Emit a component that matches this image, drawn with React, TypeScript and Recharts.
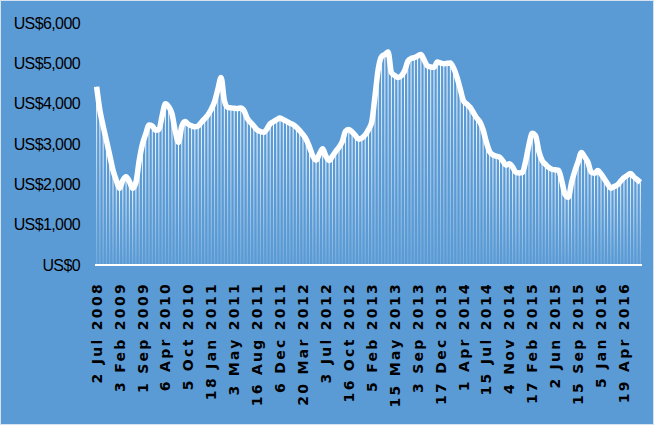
import React from 'react';
import { ComposedChart, Bar, Line, XAxis, YAxis } from 'recharts';

// auction dates shown on the axis (every 7th event)
const tickLabels = [
  '2 Jul 2008', '3 Feb 2009', '1 Sep 2009', '6 Apr 2010', '5 Oct 2010', '18 Jan 2011',
  '3 May 2011', '16 Aug 2011', '6 Dec 2011', '20 Mar 2012', '3 Jul 2012', '16 Oct 2012',
  '5 Feb 2013', '15 May 2013', '3 Sep 2013', '17 Dec 2013', '1 Apr 2014', '15 Jul 2014',
  '4 Nov 2014', '17 Feb 2015', '2 Jun 2015', '15 Sep 2015', '5 Jan 2016', '19 Apr 2016',
];

// price per tonne, one value per event
const prices = [
  4420, 3830, 3440, 3085, 2720, 2350, 2100, 1900, 2100, 2185,
  2070, 1900, 2050, 2590, 3000, 3250, 3470, 3450, 3340, 3355,
  3700, 4000, 3925, 3750, 3320, 3040, 3440, 3555, 3490, 3450,
  3425, 3445, 3540, 3630, 3725, 3860, 4050, 4350, 4650, 4075,
  3910, 3895, 3885, 3880, 3890, 3825, 3635, 3535, 3445, 3350,
  3310, 3290, 3375, 3505, 3555, 3605, 3645, 3600, 3560, 3515,
  3480, 3415, 3330, 3235, 3110, 2920, 2700, 2600, 2750, 2880,
  2700, 2590, 2700, 2820, 2920, 3060, 3320, 3360, 3300, 3210,
  3120, 3150, 3225, 3360, 3550, 4200, 4870, 5165, 5220, 5280,
  4770, 4700, 4650, 4690, 4810, 5050, 5120, 5140, 5180, 5220,
  5080, 4935, 4910, 4900, 5030, 5010, 4990, 5000, 5010, 4880,
  4660, 4370, 4070, 3990, 3910, 3780, 3650, 3550, 3350, 3040,
  2810, 2730, 2700, 2675, 2580, 2475, 2510, 2430, 2295, 2280,
  2295, 2580, 2985, 3265, 3210, 2820, 2590, 2500, 2420, 2375,
  2360, 2350, 2085, 1750, 1680, 2050, 2330, 2560, 2790, 2680,
  2545, 2300, 2275, 2340, 2255, 2140, 2010, 1905, 1945, 1985,
  2080, 2165, 2220, 2270, 2185, 2115, 2050,
];

const yTicks = [0, 1000, 2000, 3000, 4000, 5000, 6000];

const data = prices.map((v, i) => ({ i, v }));
const xTicks = tickLabels.map((_, k) => k * 7);

const fmtUsd = (v: number) => 'US$' + v.toLocaleString('en-US');

const DateTick = (props: any) => {
  const { x, y, payload } = props;
  const label = tickLabels[payload.value / 7];
  return (
    <text
      x={x}
      y={y}
      transform={`rotate(-90, ${x}, ${y})`}
      textAnchor="end"
      dy="0.36em"
      fill="#000"
      fontFamily="DejaVu Sans, Verdana, sans-serif"
      fontWeight="bold"
      fontSize={14}
      letterSpacing={2.3}
    >
      {label}
    </text>
  );
};

export default function App() {
  return (
    <div
      style={{
        position: 'absolute',
        left: 0,
        top: 0,
        width: 654,
        height: 425,
        background: '#5B9BD5',
        border: '1px solid #d6e2ef',
        boxSizing: 'border-box',
      }}
    >
      <ComposedChart
        width={652}
        height={423}
        data={data}
        margin={{ top: 22, right: 11, bottom: 0, left: 0 }}
        barCategoryGap="34%"
      >
        <defs>
          <linearGradient id="barFade" x1="0" y1="0" x2="0" y2="1">
            <stop offset="0%" stopColor="#ffffff" stopOpacity={1} />
            <stop offset="100%" stopColor="#ffffff" stopOpacity={0.15} />
          </linearGradient>
        </defs>
        <XAxis
          dataKey="i"
          ticks={xTicks}
          interval={0}
          height={159}
          tickLine={false}
          tickMargin={11}
          axisLine={{ stroke: '#ffffff', strokeWidth: 2 }}
          tick={<DateTick />}
        />
        <YAxis
          domain={[0, 6000]}
          ticks={yTicks}
          width={94}
          axisLine={false}
          tickLine={false}
          tickMargin={9}
          tickFormatter={fmtUsd}
          tick={{
            fill: '#000',
            fontSize: 16,
            letterSpacing: -0.6,
            fontFamily: 'Liberation Sans Narrow, Liberation Sans, sans-serif',
          }}
        />
        <Bar dataKey="v" fill="url(#barFade)" isAnimationActive={false} />
        <Line
          type="monotone"
          dataKey="v"
          stroke="#ffffff"
          strokeWidth={5.5}
          strokeLinejoin="round"
          dot={false}
          activeDot={false}
          isAnimationActive={false}
        />
      </ComposedChart>
    </div>
  );
}
